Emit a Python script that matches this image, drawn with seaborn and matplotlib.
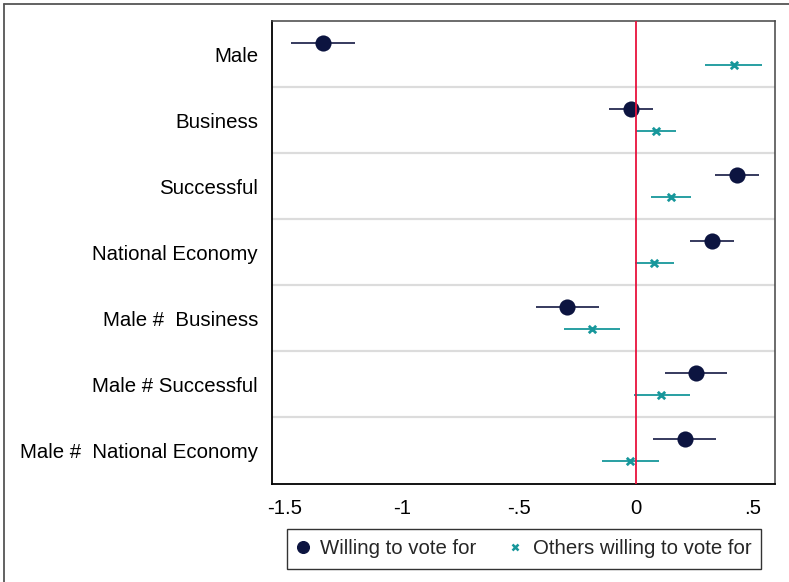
import numpy as np
import pandas as pd
import matplotlib
matplotlib.use("Agg")
import matplotlib.pyplot as plt
from matplotlib.lines import Line2D
import seaborn as sns

# Coefficient estimates with 95% confidence intervals
terms = ["Male", "Business", "Successful", "National Economy",
         "Male #  Business", "Male # Successful", "Male #  National Economy"]

willing_est = [-1.338, -0.020, 0.431, 0.323, -0.294, 0.256, 0.208]
willing_lo = [-1.473, -0.113, 0.340, 0.231, -0.427, 0.123, 0.075]
willing_hi = [-1.202, 0.075, 0.525, 0.418, -0.159, 0.391, 0.342]

others_est = [0.417, 0.085, 0.150, 0.078, -0.186, 0.109, -0.025]
others_lo = [0.294, 0.000, 0.066, -0.006, -0.309, -0.010, -0.146]
others_hi = [0.539, 0.170, 0.236, 0.163, -0.067, 0.233, 0.098]

x_ticks = [-1.5, -1, -0.5, 0, 0.5]
x_ticklabels = ["-1.5", "-1", "-.5", "0", ".5"]

series_names = ["Willing to vote for", "Others willing to vote for"]

NAVY = "#0c1440"
NAVY_LINE = "#262b52"
TEAL = "#17979b"
RED = "#e8123d"
SEP = "#dcdcdc"

sns.set_theme(style="white")
plt.rcParams["font.family"] = ["Liberation Sans", "DejaVu Sans"]
FS = 14.7

n = len(terms)
shift = 0.167
pos = np.arange(n)
df = pd.concat([
    pd.DataFrame({"term": terms, "y": pos - shift, "est": willing_est,
                  "lo": willing_lo, "hi": willing_hi, "series": series_names[0]}),
    pd.DataFrame({"term": terms, "y": pos + shift, "est": others_est,
                  "lo": others_lo, "hi": others_hi, "series": series_names[1]}),
], ignore_index=True)

fig = plt.figure(figsize=(7.89, 5.82), dpi=100)
ax = fig.add_axes([272 / 789, 1 - 483.5 / 582, (774.7 - 272) / 789, (483.5 - 21) / 582])

# row separators
for b in np.arange(0.5, n - 1, 1.0):
    ax.axhline(b, color=SEP, lw=1.6, zorder=0)

# confidence intervals
w = df[df.series == series_names[0]]
o = df[df.series == series_names[1]]
ax.hlines(w["y"], w["lo"], w["hi"], color=NAVY_LINE, lw=1.3, zorder=2)
ax.hlines(o["y"], o["lo"], o["hi"], color=TEAL, lw=1.3, zorder=2)

# point estimates
sns.scatterplot(data=w, x="est", y="y", ax=ax, color=NAVY, marker="o",
                s=135, edgecolor=NAVY, linewidth=0, zorder=3, legend=False)
sns.scatterplot(data=o, x="est", y="y", ax=ax, color=TEAL, marker="x",
                s=28, linewidth=2.0, zorder=3, legend=False)

ax.axvline(0, color=RED, lw=1.3, zorder=4)

ax.set_xlim(-1.555, 0.593)
ax.set_ylim(n - 0.5, -0.5)
ax.set_yticks(pos)
ax.set_yticklabels(terms, fontsize=FS, color="black")
ax.set_xticks(x_ticks)
ax.set_xticklabels(x_ticklabels, fontsize=FS, color="black")
ax.set_xlabel("")
ax.set_ylabel("")
ax.tick_params(axis="y", direction="out", length=7, width=1.0, color="black", pad=3)
ax.tick_params(axis="x", direction="out", length=6, width=1.0, color="black", pad=5)
for side in ["left", "bottom"]:
    ax.spines[side].set_color("black")
    ax.spines[side].set_linewidth(1.3)
for side in ["top", "right"]:
    ax.spines[side].set_color("#444444")
    ax.spines[side].set_linewidth(1.1)

handles = [
    Line2D([], [], color=NAVY, marker="o", linestyle="none", markersize=8.4),
    Line2D([], [], color=TEAL, marker="x", linestyle="none", markersize=4.5,
           markeredgewidth=1.8),
]
leg = fig.legend(handles, series_names, loc="center",
                 bbox_to_anchor=(524 / 789, 1 - 549 / 582), ncol=2,
                 fontsize=FS, frameon=True, fancybox=False, handlelength=0.6,
                 handletextpad=0.55, columnspacing=1.6, borderpad=0.5,
                 borderaxespad=0, edgecolor="black")
leg.get_frame().set_linewidth(1.0)

# outer frame
fig.add_artist(Line2D([3.5 / 789, 3.5 / 789], [0, 1 - 3.5 / 582],
                      transform=fig.transFigure, color="#555555", lw=1.3))
fig.add_artist(Line2D([3.5 / 789, 1], [1 - 3.5 / 582, 1 - 3.5 / 582],
                      transform=fig.transFigure, color="#555555", lw=1.3))

fig.savefig("out.png", dpi=100)
